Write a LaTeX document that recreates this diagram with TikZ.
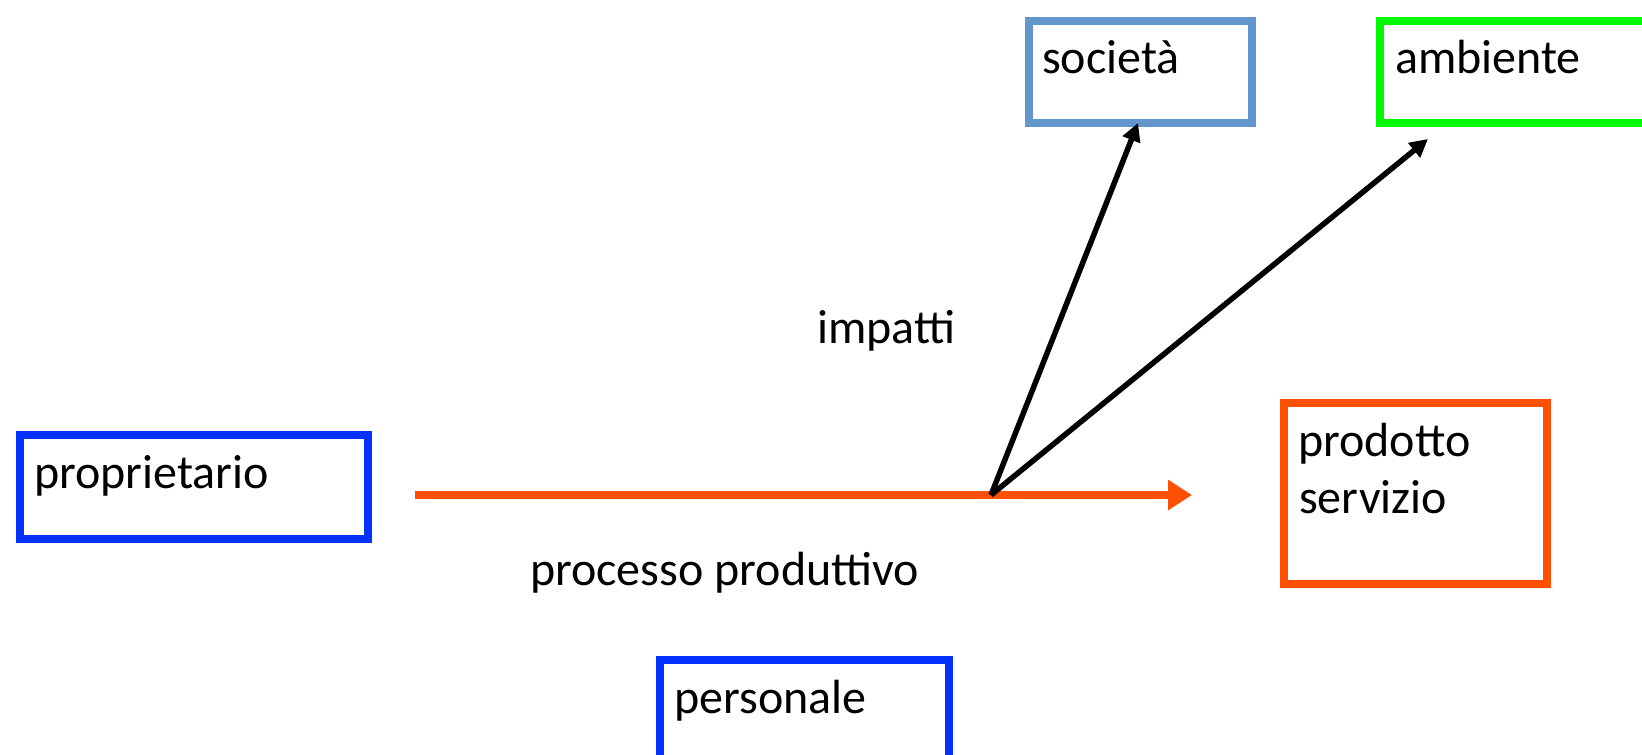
\documentclass[tikz,border=0pt]{standalone}
\usepackage{fontspec}
\setmainfont{Carlito}
\usetikzlibrary{arrows.meta}
\definecolor{socblue}{RGB}{99,150,205}
\definecolor{boxblue}{RGB}{4,51,255}
\definecolor{envgreen}{RGB}{0,249,0}
\definecolor{procorange}{RGB}{255,79,0}
\tikzset{
  box/.style={draw, rectangle, line width=8pt, inner sep=0pt, anchor=north west},
  lbl/.style={anchor=base west, inner sep=0pt, font=\fontsize{48}{58}\selectfont},
  flow/.style={draw=procorange, line width=8.3pt, -{Triangle[length=24pt,width=29pt]}},
  impact/.style={draw=black, line width=5.5pt, -{Triangle[length=18pt,width=18pt]}}
}
\begin{document}
\begin{tikzpicture}[x=1pt,y=-1pt]
\useasboundingbox (0,0) rectangle (1642,755);
\clip (0,0) rectangle (1642,755);
% boxes
\node[box, draw=socblue, minimum width=223pt, minimum height=102pt] (soc) at (1025,17) {};
\node[box, draw=envgreen, minimum width=290pt, minimum height=102pt] (amb) at (1376,17) {};
\node[box, draw=boxblue, minimum width=348.5pt, minimum height=104pt] (prop) at (15.5,431) {};
\node[box, draw=procorange, minimum width=263pt, minimum height=181pt] (prod) at (1280,399) {};
\node[box, draw=boxblue, minimum width=289pt, minimum height=120pt] (pers) at (656,655.5) {};
% texts
\node[lbl] (soct) at (1042,73) {società};
\node[lbl] (ambt) at (1395,73) {ambiente};
\node[lbl] (propt) at (34,488) {proprietario};
\node[lbl] (prodt1) at (1298,456) {prodotto};
\node[lbl] (prodt2) at (1299,513) {servizio};
\node[lbl] (perst) at (674,713) {personale};
\node[lbl] (impt) at (817,343) {impatti};
\node[lbl] (proct) at (530,585) {processo produttivo};
% connectors
\coordinate (fstart) at (415,495);
\coordinate (fend) at (1192,495);
\coordinate (junc) at (991,495);
\coordinate (socin) at (1138,123);
\coordinate (ambin) at (1428,139);
\draw[flow] (fstart) -- (fend);
\draw[impact] (junc) -- (socin);
\draw[impact] (junc) -- (ambin);
\end{tikzpicture}
\end{document}
